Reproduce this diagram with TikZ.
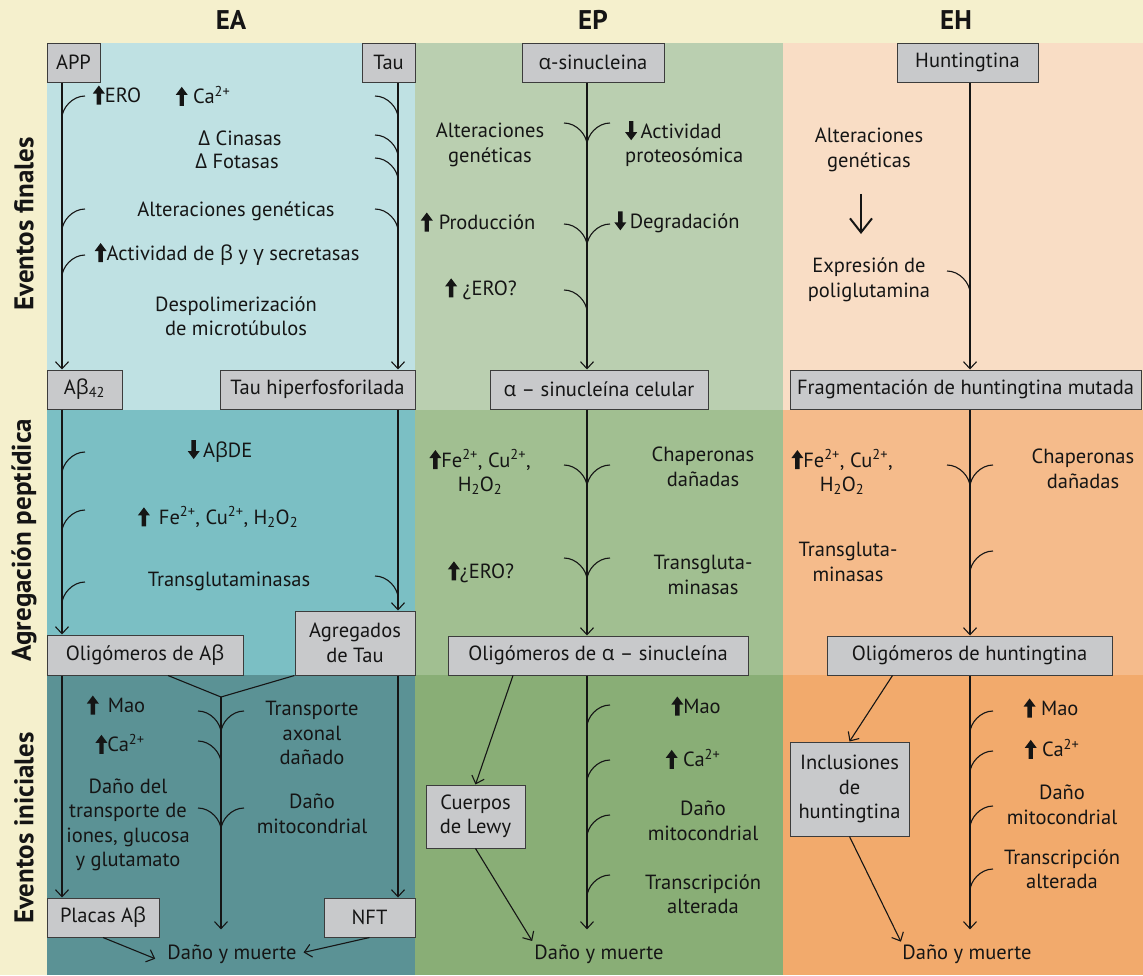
\documentclass[tikz,border=0pt]{standalone}
\usepackage{fontspec}
\setmainfont{PT Sans}
\newfontfamily\grk{Open Sans}
\usetikzlibrary{arrows.meta}

\definecolor{cream}{HTML}{F5F0CD}
\definecolor{eaone}{HTML}{BFE1E3}
\definecolor{eatwo}{HTML}{7BBFC4}
\definecolor{eathree}{HTML}{5B9295}
\definecolor{epone}{HTML}{BACFB0}
\definecolor{eptwo}{HTML}{A1BF91}
\definecolor{epthree}{HTML}{89AE76}
\definecolor{ehone}{HTML}{F9DDC5}
\definecolor{ehtwo}{HTML}{F5BB8B}
\definecolor{ehthree}{HTML}{F2AA6C}
\definecolor{boxgray}{HTML}{C8C9CB}
\definecolor{boxline}{HTML}{3C3C3C}
\definecolor{ink}{HTML}{151515}

\newcommand{\gk}[1]{{\grk #1}}
\newcommand{\upar}{\tikz[baseline=2pt,x=1pt,y=1pt]\fill[ink] (-2.2,0) -- (-2.2,11) -- (-6,11) -- (0,19) -- (6,11) -- (2.2,11) -- (2.2,0) -- cycle;}
\newcommand{\dnar}{\tikz[baseline=2pt,x=1pt,y=1pt]\fill[ink] (-2.2,19) -- (2.2,19) -- (2.2,8) -- (6,8) -- (0,0) -- (-6,8) -- (-2.2,8) -- cycle;}

\begin{document}
\begin{tikzpicture}[
    x=1pt, y=-1pt,
    box/.style={
        rectangle,
        draw=boxline,
        fill=boxgray,
        line width=1pt,
        minimum height=39pt,
        inner sep=2pt,
        text=ink,
        font=\fontsize{20.5}{24.5}\selectfont,
        align=center
    },
    note/.style={align=center, inner sep=0pt, text=ink, font=\fontsize{20.5}{24.5}\selectfont},
    head/.style={text=ink, font=\fontsize{27}{30}\selectfont\bfseries},
    rowlab/.style={rotate=90, text=ink, font=\fontsize{27}{30}\selectfont\bfseries},
    line/.style={line width=1.1pt, draw=ink},
    flow/.style={line, -{Straight Barb[length=7pt,width=13pt]}},
    bigflow/.style={line width=2pt, draw=ink, -{Straight Barb[length=14pt,width=22pt]}},
    feedr/.pic={\draw[line] (23,-22) .. controls (10.5,-22) and (0,-10) .. (0,0);},
    feedl/.pic={\draw[line] (-23,-22) .. controls (-10.5,-22) and (0,-10) .. (0,0);},
    feedb/.pic={\draw[line] (-23,-22) .. controls (-10.5,-22) and (0,-10) .. (0,0)
        .. controls (0,-10) and (10.5,-22) .. (23,-22);}
]
\useasboundingbox (0,0) rectangle (1143,975);

% bands
\fill[cream] (0,0) rectangle (1143,975);
\fill[eaone] (47,43) rectangle (415,410);
\fill[eatwo] (47,410) rectangle (415,675);
\fill[eathree] (47,675) rectangle (415,975);
\fill[epone] (415,43) rectangle (783,410);
\fill[eptwo] (415,410) rectangle (783,675);
\fill[epthree] (415,675) rectangle (783,975);
\fill[ehone] (783,43) rectangle (1143,410);
\fill[ehtwo] (783,410) rectangle (1143,675);
\fill[ehthree] (783,675) rectangle (1143,975);

\node[head] (ea) at (231,20) {EA};
\node[head] (ep) at (593,20) {EP};
\node[head] (eh) at (956,20) {EH};

\node[rowlab] (rfin) at (24,224) {Eventos finales};
\node[rowlab] (ragr) at (24,540) {Agregación peptídica};
\node[rowlab] (rini) at (24,828) {Eventos iniciales};

\coordinate (xl) at (62,0);
\coordinate (xr) at (398,0);
\coordinate (xp) at (587,0);
\coordinate (xh) at (970,0);
\coordinate (join) at (221,697);

% EA
\node[box, minimum width=53pt] (app) at (73.5,62.5) {APP};
\node[box, minimum width=53pt] (tau) at (388.5,62.5) {Tau};
\node[box, minimum width=75pt] (ab42) at (84.5,389.5) {A\gk{β}\textsubscript{42}};
\node[box, minimum width=195pt] (tauh) at (317.5,389.5) {Tau hiperfosforilada};
\node[box, minimum width=196pt, minimum height=40pt] (oliab) at (145,655) {Oligómeros de A\gk{β}};
\node[box, minimum width=120pt, minimum height=64pt] (agtau) at (355,643) {Agregados\\de Tau};
\node[box, minimum width=112pt] (placas) at (103,917.5) {Placas A\gk{β}};
\node[box, minimum width=91pt] (nft) at (369.5,917.5) {NFT};
\node[note] (dam1) at (232,954) {Daño y muerte};

\node[note] (ero1) at (117,95) {\upar ERO};
\node[note] (ca1) at (203,96) {\upar\ Ca\textsuperscript{2+}};
\node[note] (cin) at (240,138) {\gk{Δ} Cinasas};
\node[note] (fot) at (237,161) {\gk{Δ} Fotasas};
\node[note] (alt1) at (236,211) {Alteraciones genéticas};
\node[note] (act1) at (227,254) {\upar Actividad de \gk{β} y \gk{γ} secretasas};
\node[note] (desp) at (236,316) {Despolimerización\\de microtúbulos};

\node[note] (abde) at (220,451) {\dnar\,A\gk{β}DE};
\node[note] (fe1) at (218,517) {\upar\hspace{9pt}Fe\textsuperscript{2+}, Cu\textsuperscript{2+}, H\textsubscript{2}O\textsubscript{2}};
\node[note] (trg1) at (229,581) {Transglutaminasas};

\node[note] (mao1) at (116,705) {\upar\hspace{9pt}Mao};
\node[note] (ca3) at (120,744) {\upar Ca\textsuperscript{2+}};
\node[note] (dtr) at (128,825) {Daño del\\transporte de\\iones, glucosa\\y glutamato};
\node[note] (tax) at (312,733) {Transporte\\axonal\\dañado};
\node[note] (dmi1) at (312,814) {Daño\\mitocondrial};

% EP
\node[box, minimum width=142pt] (asin) at (593,62.5) {\gk{α}-sinucleina};
\node[box, minimum width=218pt] (asincel) at (599,389.5) {\gk{α} – sinucleína celular};
\node[box, minimum width=300pt] (olias) at (598,655.5) {Oligómeros de \gk{α} – sinucleína};
\node[box, minimum width=99pt, minimum height=63pt] (lewy) at (475.5,816.5) {Cuerpos\\de Lewy};
\node[note] (dam2) at (599,954) {Daño y muerte};

\node[note] (alt2) at (490,145) {Alteraciones\\genéticas};
\node[note, align=left, anchor=west] (prot) at (625,144) {\dnar\,Actividad\\proteosómica};
\node[note] (prod) at (478,222) {\upar\hspace{6pt}Producción};
\node[note] (degr) at (677,222) {\dnar\,Degradación};
\node[note] (ero2) at (481,289) {\upar\ ¿ERO?};

\node[note] (fe2) at (480,472) {\upar Fe\textsuperscript{2+}, Cu\textsuperscript{2+},\\H\textsubscript{2}O\textsubscript{2}};
\node[note] (chap2) at (703,467) {Chaperonas\\dañadas};
\node[note] (ero3) at (481,572) {\upar ¿ERO?};
\node[note] (trg2) at (703,575) {Transgluta-\\minasas};

\node[note] (mao2) at (696,706) {\upar Mao};
\node[note] (ca4) at (693,759) {\upar\ Ca\textsuperscript{2+}};
\node[note] (dmi2) at (703,821) {Daño\\mitocondrial};
\node[note] (tra2) at (703,894) {Transcripción\\alterada};

% EH
\node[box, minimum width=141pt] (hunt) at (967.5,62.5) {Huntingtina};
\node[box, minimum width=351pt] (frag) at (965.5,389.5) {Fragmentación de huntingtina mutada};
\node[box, minimum width=285pt] (olih) at (969.5,655.5) {Oligómeros de huntingtina};
\node[box, minimum width=119pt, minimum height=94pt] (incl) at (849.5,789) {Inclusiones\\de\\huntingtina};
\node[note] (dam3) at (967,954) {Daño y muerte};

\node[note] (alt3) at (869,150) {Alteraciones\\genéticas};
\node[note] (expr3) at (869,280) {Expresión de\\poliglutamina};

\node[note] (fe3) at (842,472) {\upar Fe\textsuperscript{2+}, Cu\textsuperscript{2+},\\H\textsubscript{2}O\textsubscript{2}};
\node[note] (chap3) at (1083,469) {Chaperonas\\dañadas};
\node[note] (trg3) at (848,562) {Transgluta-\\minasas};

\node[note] (mao3) at (1051,708) {\upar\ Mao};
\node[note] (ca5) at (1052,749) {\upar\ Ca\textsuperscript{2+}};
\node[note] (dmi3) at (1062,805) {Daño\\mitocondrial};
\node[note] (tra3) at (1062,869) {Transcripción\\alterada};

% EA connectors
\draw[flow] (app.south -| xl) -- (ab42.north -| xl);
\draw[flow] (ab42.south -| xl) -- (oliab.north -| xl);
\draw[flow] (oliab.south -| xl) -- (placas.north -| xl);
\draw[flow] (tau.south -| xr) -- (tauh.north -| xr);
\draw[flow] (tauh.south -| xr) -- (agtau.north -| xr);
\draw[flow] (agtau.south -| xr) -- (nft.north -| xr);
\draw[line] ([xshift=23pt]oliab.south) -- (join);
\draw[line] (agtau.south west) -- (join);
\draw[flow, shorten >=15pt] (join) -- (join |- dam1.north);
\draw[flow, shorten >=13pt] (placas.south) -- (dam1.south west);
\draw[flow, shorten >=7pt] (nft.south) -- (dam1.east);

\pic at (62,118) {feedr};
\pic at (62,231) {feedr};
\pic at (62,277) {feedr};
\pic at (398,118) {feedl};
\pic at (398,157) {feedl};
\pic at (398,180) {feedl};
\pic at (398,231) {feedl};
\pic at (62,474) {feedr};
\pic at (62,532) {feedr};
\pic at (62,604) {feedr};
\pic at (398,598) {feedl};
\pic at (221,733) {feedb};
\pic at (221,763) {feedl};
\pic at (221,830) {feedb};

% EP connectors
\draw[flow] (asin.south -| xp) -- (asincel.north -| xp);
\draw[flow] (asincel.south -| xp) -- (olias.north -| xp);
\draw[flow, shorten >=15pt] (olias.south -| xp) -- (dam2.north -| xp);
\draw[flow] ([xshift=-85pt]olias.south) -- (lewy.north);
\draw[flow, shorten >=4pt] (lewy.south) -- (dam2.north west);

\pic at (587,145) {feedb};
\pic at (587,246) {feedb};
\pic at (587,312) {feedl};
\pic at (587,487) {feedb};
\pic at (587,580) {feedb};
\pic at (587,727) {feedr};
\pic at (587,782) {feedr};
\pic at (587,837) {feedr};
\pic at (587,897) {feedr};

% EH connectors
\draw[flow] (hunt.south -| xh) -- (frag.north -| xh);
\draw[flow] (frag.south -| xh) -- (olih.north -| xh);
\draw[flow, shorten >=15pt] (olih.south -| xh) -- (dam3.north -| xh);
\draw[flow] ([xshift=-77pt]olih.south) -- (incl.north);
\draw[flow, shorten >=3pt] (incl.south) -- (dam3.north west);
\draw[bigflow, shorten <=22pt, shorten >=24pt] ([xshift=-8pt]alt3.south) -- ([xshift=-8pt]expr3.north);

\pic at (970,293) {feedl};
\pic at (970,487) {feedb};
\pic at (970,573) {feedr};
\pic at (970,733) {feedr};
\pic at (970,773) {feedr};
\pic at (970,828) {feedr};
\pic at (970,891) {feedr};

\end{tikzpicture}
\end{document}
